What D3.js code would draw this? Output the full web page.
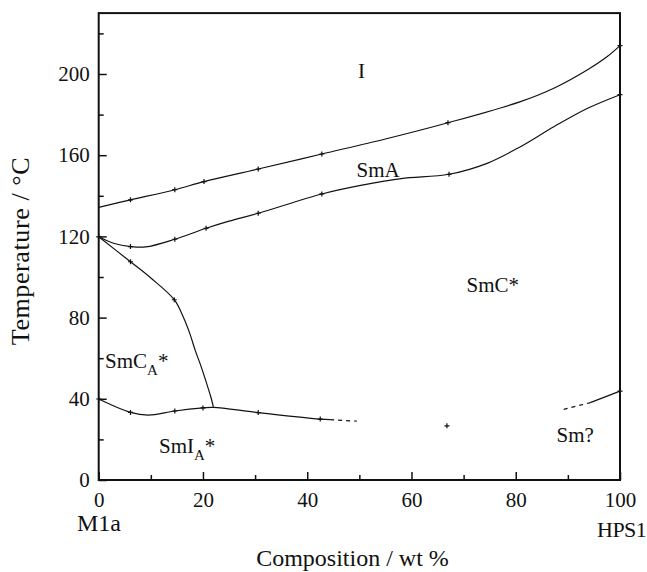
<!DOCTYPE html>
<html>
<head>
<meta charset="utf-8">
<script src="https://cdn.jsdelivr.net/npm/d3@7"></script>
<style>
  html, body { margin: 0; padding: 0; background: #fff; }
  svg { display: block; }
  svg text { font-family: "Liberation Serif", "DejaVu Serif", serif; fill: #111; }
</style>
</head>
<body>
<svg id="chart" width="647" height="572"></svg>
<script>
// ---------- data ----------
const xTicksMajor = [0, 20, 40, 60, 80, 100];
const xTicksMinor = [10, 30, 50, 70, 90];
const yTicksMajor = [0, 40, 80, 120, 160, 200];
const yTicksMinor = [20, 60, 100, 140, 180, 220];

// I / SmA transition
const isoComp = [0, 6.1, 14.6, 20.2, 30.6, 42.8, 55, 67, 80.9, 87.3, 93.7, 97.5, 100];
const isoT    = [134.3, 138, 143, 147, 153.2, 160.6, 168, 176, 186.4, 193, 202, 208.5, 214];
const isoMarkComp = [6.1, 14.6, 20.2, 30.6, 42.8, 67, 100];
const isoMarkT    = [138, 143, 147, 153.2, 160.6, 176, 214];

// SmA / SmC* transition
const acComp = [0, 3, 6.1, 9, 14.6, 20.6, 25, 30.6, 42.8, 50, 58, 67.2, 74.5, 80.9, 87.3, 93.7, 100];
const acT    = [119.8, 116.5, 115, 114.8, 118.6, 124, 127.5, 131.4, 140.9, 145, 148.5, 150.6, 156, 164.2, 174, 183, 189.8];
const acMarkComp = [0, 6.1, 14.6, 20.6, 30.6, 42.8, 67.2, 100];
const acMarkT    = [119.8, 115, 118.6, 124, 131.4, 140.9, 150.6, 189.8];

// SmC* / SmCA* boundary
const caComp = [0, 6.1, 10, 14.5, 16.2, 17.5, 18.5, 19.7, 20.7, 21.5, 22];
const caT    = [119.8, 107.5, 99.5, 88.8, 80.4, 72, 64, 55.5, 47.6, 41, 36];
const caMarkComp = [6.1, 14.5];
const caMarkT    = [107.5, 88.8];

// SmCA* / SmIA* transition (solid part, then dashed part)
const ciComp = [0, 6.1, 9.5, 14.6, 20, 22, 30.6, 42.5, 44.4];
const ciT    = [39.9, 33.3, 32, 34, 35.5, 35.8, 33.2, 30, 29.7];
const ciDashComp = [44.4, 49.5];
const ciDashT    = [29.7, 29];
const ciMarkComp = [0, 6.1, 14.6, 20, 30.6, 42.5];
const ciMarkT    = [39.9, 33.3, 34, 35.5, 33.2, 30];

// Sm? boundary near HPS1
const smComp = [94.3, 100];
const smT    = [38.1, 43.8];
const smDashComp = [89.2, 94.3];
const smDashT    = [34.8, 38.1];
const smMarkComp = [100];
const smMarkT    = [43.8];

// isolated point
const isoPtComp = [66.8];
const isoPtT    = [26.7];

// ---------- layout ----------
const svg = d3.select("#chart");
const x = d3.scaleLinear().domain([0, 100]).range([98.7, 620]);
const y = d3.scaleLinear().domain([0, 230]).range([480, 13.1]);

const line = d3.line().x(d => x(d[0])).y(d => y(d[1])).curve(d3.curveCatmullRom.alpha(0.5));
const zip = (a, b) => a.map((v, i) => [v, b[i]]);

// axes (ticks point inward)
const gx = svg.append("g").attr("transform", `translate(0,${y(0)})`)
  .call(d3.axisBottom(x).tickValues(xTicksMajor).tickSizeInner(-8).tickSizeOuter(0).tickPadding(12));
const gxm = svg.append("g").attr("transform", `translate(0,${y(0)})`)
  .call(d3.axisBottom(x).tickValues(xTicksMinor).tickSizeInner(-5).tickSizeOuter(0).tickFormat(""));
const gy = svg.append("g").attr("transform", `translate(${x(0)},0)`)
  .call(d3.axisLeft(y).tickValues(yTicksMajor).tickSizeInner(-8).tickSizeOuter(0).tickPadding(9));
const gym = svg.append("g").attr("transform", `translate(${x(0)},0)`)
  .call(d3.axisLeft(y).tickValues(yTicksMinor).tickSizeInner(-5).tickSizeOuter(0).tickFormat(""));
[gx, gxm, gy, gym].forEach(g => {
  g.attr("font-family", null);
  g.select(".domain").remove();
  g.selectAll(".tick line").attr("stroke", "#111").attr("stroke-width", 1.5);
  g.selectAll(".tick text").attr("font-size", 21).attr("fill", "#111");
});

// frame
svg.append("rect")
  .attr("x", x(0)).attr("y", y(230))
  .attr("width", x(100) - x(0)).attr("height", y(0) - y(230))
  .attr("fill", "none").attr("stroke", "#111").attr("stroke-width", 2);

// curves
const curves = [[isoComp, isoT], [acComp, acT], [caComp, caT], [ciComp, ciT], [smComp, smT]];
curves.forEach(([c, t]) => {
  svg.append("path").attr("d", line(zip(c, t)))
    .attr("fill", "none").attr("stroke", "#111").attr("stroke-width", 1.2);
});
[[ciDashComp, ciDashT], [smDashComp, smDashT]].forEach(([c, t]) => {
  svg.append("path").attr("d", line(zip(c, t)))
    .attr("fill", "none").attr("stroke", "#111").attr("stroke-width", 1.2)
    .attr("stroke-dasharray", "4,4");
});

// markers (+)
const plus = d3.symbol().type({draw(ctx){ ctx.moveTo(-2.5,0); ctx.lineTo(2.5,0); ctx.moveTo(0,-2.5); ctx.lineTo(0,2.5);} });
const marks = [[isoMarkComp, isoMarkT], [acMarkComp, acMarkT], [caMarkComp, caMarkT],
               [ciMarkComp, ciMarkT], [smMarkComp, smMarkT], [isoPtComp, isoPtT]];
marks.forEach(([c, t]) => {
  svg.append("g").selectAll("path").data(zip(c, t)).join("path")
    .attr("transform", d => `translate(${x(d[0])},${y(d[1])})`)
    .attr("d", plus)
    .attr("fill", "none").attr("stroke", "#111").attr("stroke-width", 1.2);
});

// phase labels
const lab = (px, py, txt, size = 21) => svg.append("text").attr("x", px).attr("y", py)
  .attr("font-size", size).text(txt);
lab(358, 78, "I");
lab(356.5, 176.5, "SmA");
lab(466.5, 291.5, "SmC*");
lab(556.5, 441.5, "Sm?");
const t1 = svg.append("text").attr("x", 105).attr("y", 368).attr("font-size", 21);
t1.append("tspan").text("SmC");
t1.append("tspan").attr("font-size", 15).attr("dy", 7).text("A");
t1.append("tspan").attr("dy", -7).text("*");
const t2 = svg.append("text").attr("x", 159).attr("y", 452.5).attr("font-size", 21);
t2.append("tspan").text("SmI");
t2.append("tspan").attr("font-size", 15).attr("dy", 7).text("A");
t2.append("tspan").attr("dy", -7).text("*");

// axis titles and end-member labels
svg.append("text").attr("x", 77).attr("y", 531).attr("font-size", 24).text("M1a");
svg.append("text").attr("x", 597).attr("y", 537).attr("font-size", 22)
  .attr("letter-spacing", -0.5).text("HPS1");
svg.append("text").attr("x", 352.5).attr("y", 566).attr("font-size", 24)
  .attr("text-anchor", "middle").text("Composition / wt %");
svg.append("text").attr("transform", "translate(29,251) rotate(-90)")
  .attr("font-size", 26).attr("letter-spacing", 0.6)
  .attr("text-anchor", "middle").text("Temperature / °C");
</script>
</body>
</html>
